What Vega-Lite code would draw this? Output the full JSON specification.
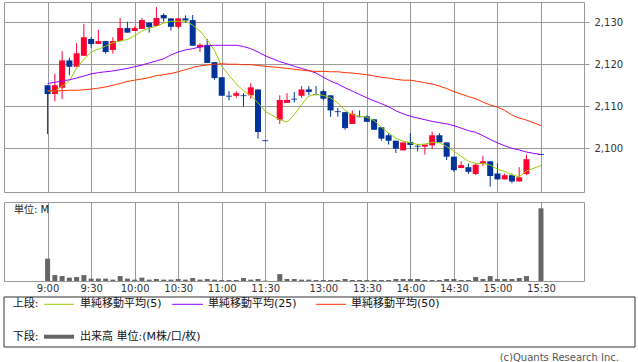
{
  "$schema": "https://vega.github.io/schema/vega-lite/v6.json",
  "padding": {"left": 3, "top": 1, "right": 0, "bottom": 0},
  "background": "white",
  "config": {
    "view": {"stroke": "#999", "strokeWidth": 1},
    "axis": {"gridColor": "#999", "gridWidth": 1, "gridOpacity": 1, "labelFont": "DejaVu Sans", "labelFontSize": 10, "labelColor": "#333", "domain": false, "ticks": false},
    "text": {"font": "DejaVu Sans, Noto Sans CJK JP"}
  },
  "datasets": {
    "candles": [
      {"s":0,"o":2115.0,"h":2115.0,"l":2103.4,"c":2112.9},
      {"s":1,"o":2112.9,"h":2117.7,"l":2111.2,"c":2115.0},
      {"s":2,"o":2114.4,"h":2123.1,"l":2111.7,"c":2120.9},
      {"s":3,"o":2120.9,"h":2121.5,"l":2117.4,"c":2119.4},
      {"s":4,"o":2119.4,"h":2125.0,"l":2119.4,"c":2122.6},
      {"s":5,"o":2122.0,"h":2129.6,"l":2122.0,"c":2126.4},
      {"s":6,"o":2126.0,"h":2126.4,"l":2123.9,"c":2124.8},
      {"s":7,"o":2124.8,"h":2128.2,"l":2124.8,"c":2125.5},
      {"s":8,"o":2125.5,"h":2125.5,"l":2122.5,"c":2122.9},
      {"s":9,"o":2123.4,"h":2126.4,"l":2122.5,"c":2125.5},
      {"s":10,"o":2125.5,"h":2131.0,"l":2125.5,"c":2128.6},
      {"s":11,"o":2128.6,"h":2130.1,"l":2127.5,"c":2127.5},
      {"s":12,"o":2127.9,"h":2129.0,"l":2127.9,"c":2128.6},
      {"s":13,"o":2128.4,"h":2131.0,"l":2128.4,"c":2130.5},
      {"s":14,"o":2129.9,"h":2129.9,"l":2127.5,"c":2128.8},
      {"s":15,"o":2129.1,"h":2133.6,"l":2129.1,"c":2131.0},
      {"s":16,"o":2131.7,"h":2132.1,"l":2130.1,"c":2130.9},
      {"s":17,"o":2130.9,"h":2130.9,"l":2128.0,"c":2128.9},
      {"s":18,"o":2128.9,"h":2130.9,"l":2128.5,"c":2130.9},
      {"s":19,"o":2130.9,"h":2131.6,"l":2129.9,"c":2130.4},
      {"s":20,"o":2130.5,"h":2131.7,"l":2124.4,"c":2124.4},
      {"s":21,"o":2124.0,"h":2125.0,"l":2122.9,"c":2124.6},
      {"s":22,"o":2124.6,"h":2126.0,"l":2120.3,"c":2120.3},
      {"s":23,"o":2120.5,"h":2120.5,"l":2116.3,"c":2116.7},
      {"s":24,"o":2116.9,"h":2116.9,"l":2112.5,"c":2112.5},
      {"s":25,"o":2112.5,"h":2113.6,"l":2111.4,"c":2112.3},
      {"s":26,"o":2112.5,"h":2113.6,"l":2112.0,"c":2113.1},
      {"s":27,"o":2112.6,"h":2113.1,"l":2109.9,"c":2112.4},
      {"s":28,"o":2112.6,"h":2115.5,"l":2111.8,"c":2114.5},
      {"s":29,"o":2114.0,"h":2114.0,"l":2102.3,"c":2103.9},
      {"s":30,"o":2101.9,"h":2101.9,"l":2101.7,"c":2101.7},
      {"s":32,"o":2106.8,"h":2112.6,"l":2105.8,"c":2111.5},
      {"s":33,"o":2110.8,"h":2113.1,"l":2110.8,"c":2111.5},
      {"s":34,"o":2111.8,"h":2113.4,"l":2110.9,"c":2111.6},
      {"s":35,"o":2112.5,"h":2114.8,"l":2112.0,"c":2114.0},
      {"s":36,"o":2114.0,"h":2114.8,"l":2112.6,"c":2113.4},
      {"s":37,"o":2112.9,"h":2114.8,"l":2112.6,"c":2112.7},
      {"s":38,"o":2113.6,"h":2114.0,"l":2111.4,"c":2111.8},
      {"s":39,"o":2112.6,"h":2112.6,"l":2107.5,"c":2109.0},
      {"s":40,"o":2108.8,"h":2109.6,"l":2107.5,"c":2108.6},
      {"s":41,"o":2108.6,"h":2108.6,"l":2104.4,"c":2104.8},
      {"s":42,"o":2105.8,"h":2109.0,"l":2105.8,"c":2108.2},
      {"s":43,"o":2107.6,"h":2109.0,"l":2107.4,"c":2107.4},
      {"s":44,"o":2107.6,"h":2107.8,"l":2106.3,"c":2106.3},
      {"s":45,"o":2106.9,"h":2106.9,"l":2104.4,"c":2104.4},
      {"s":46,"o":2105.0,"h":2105.0,"l":2101.8,"c":2102.3},
      {"s":47,"o":2103.1,"h":2103.6,"l":2100.9,"c":2101.8},
      {"s":48,"o":2101.8,"h":2101.8,"l":2098.9,"c":2099.9},
      {"s":49,"o":2099.5,"h":2101.4,"l":2099.5,"c":2101.4},
      {"s":50,"o":2101.5,"h":2103.6,"l":2099.8,"c":2100.8},
      {"s":51,"o":2100.6,"h":2101.0,"l":2099.3,"c":2100.4},
      {"s":52,"o":2100.4,"h":2100.9,"l":2098.5,"c":2100.9},
      {"s":53,"o":2100.7,"h":2104.0,"l":2099.8,"c":2103.1},
      {"s":54,"o":2103.1,"h":2103.6,"l":2101.4,"c":2101.4},
      {"s":55,"o":2101.4,"h":2101.4,"l":2097.2,"c":2098.0},
      {"s":56,"o":2098.0,"h":2098.0,"l":2094.4,"c":2094.8},
      {"s":57,"o":2095.3,"h":2096.9,"l":2095.3,"c":2096.0},
      {"s":58,"o":2095.5,"h":2096.4,"l":2093.9,"c":2094.4},
      {"s":59,"o":2093.9,"h":2096.4,"l":2093.6,"c":2096.1},
      {"s":60,"o":2096.3,"h":2098.2,"l":2095.8,"c":2096.9},
      {"s":61,"o":2096.9,"h":2096.9,"l":2090.9,"c":2093.4},
      {"s":62,"o":2094.0,"h":2096.4,"l":2092.6,"c":2092.6},
      {"s":63,"o":2092.6,"h":2094.0,"l":2092.6,"c":2093.6},
      {"s":64,"o":2093.6,"h":2094.0,"l":2091.7,"c":2092.1},
      {"s":65,"o":2092.1,"h":2095.5,"l":2092.1,"c":2093.1},
      {"s":66,"o":2093.9,"h":2098.5,"l":2093.6,"c":2097.4},
      {"s":68,"o":2098.6,"h":2098.6,"l":2098.4,"c":2098.4}
    ],
    "ma": [
      {"s":0,"ma5":2113.7,"ma25":2115.4,"ma50":2113.7},
      {"s":1,"ma5":2113.6,"ma25":2115.7,"ma50":2113.7},
      {"s":2,"ma5":2114.8,"ma25":2116.0,"ma50":2113.7},
      {"s":3,"ma5":2116.0,"ma25":2116.3,"ma50":2113.8},
      {"s":4,"ma5":2119.1,"ma25":2116.7,"ma50":2113.8},
      {"s":5,"ma5":2121.1,"ma25":2117.2,"ma50":2113.9},
      {"s":6,"ma5":2122.9,"ma25":2117.7,"ma50":2114.1},
      {"s":7,"ma5":2123.6,"ma25":2118.0,"ma50":2114.3},
      {"s":8,"ma5":2124.3,"ma25":2118.2,"ma50":2114.6},
      {"s":9,"ma5":2125.1,"ma25":2118.4,"ma50":2115.0},
      {"s":10,"ma5":2125.5,"ma25":2118.7,"ma50":2115.4},
      {"s":11,"ma5":2125.9,"ma25":2119.0,"ma50":2115.9},
      {"s":12,"ma5":2126.8,"ma25":2119.4,"ma50":2116.2},
      {"s":13,"ma5":2127.9,"ma25":2119.8,"ma50":2116.5},
      {"s":14,"ma5":2128.6,"ma25":2120.3,"ma50":2116.8},
      {"s":15,"ma5":2129.0,"ma25":2120.8,"ma50":2117.3},
      {"s":16,"ma5":2129.8,"ma25":2121.3,"ma50":2117.5},
      {"s":17,"ma5":2130.2,"ma25":2122.2,"ma50":2117.8},
      {"s":18,"ma5":2130.2,"ma25":2122.9,"ma50":2118.2},
      {"s":19,"ma5":2130.3,"ma25":2123.4,"ma50":2118.7},
      {"s":20,"ma5":2129.3,"ma25":2123.7,"ma50":2119.2},
      {"s":21,"ma5":2127.9,"ma25":2124.1,"ma50":2119.6},
      {"s":22,"ma5":2125.8,"ma25":2124.4,"ma50":2119.8},
      {"s":23,"ma5":2123.3,"ma25":2124.5,"ma50":2120.0},
      {"s":24,"ma5":2119.5,"ma25":2124.5,"ma50":2120.1},
      {"s":25,"ma5":2117.4,"ma25":2124.5,"ma50":2120.0},
      {"s":26,"ma5":2115.3,"ma25":2124.5,"ma50":2120.0},
      {"s":27,"ma5":2113.7,"ma25":2124.2,"ma50":2119.9},
      {"s":28,"ma5":2112.6,"ma25":2123.7,"ma50":2119.9},
      {"s":29,"ma5":2110.8,"ma25":2122.9,"ma50":2119.7},
      {"s":30,"ma5":2108.8,"ma25":2122.0,"ma50":2119.5},
      {"s":32,"ma5":2106.8,"ma25":2120.6,"ma50":2119.2},
      {"s":33,"ma5":2106.2,"ma25":2120.1,"ma50":2119.0},
      {"s":34,"ma5":2108.0,"ma25":2119.5,"ma50":2118.8},
      {"s":35,"ma5":2110.4,"ma25":2119.0,"ma50":2118.6},
      {"s":36,"ma5":2112.4,"ma25":2118.5,"ma50":2118.4},
      {"s":37,"ma5":2112.8,"ma25":2117.9,"ma50":2118.3},
      {"s":38,"ma5":2112.6,"ma25":2116.9,"ma50":2118.3},
      {"s":39,"ma5":2112.0,"ma25":2116.0,"ma50":2118.2},
      {"s":40,"ma5":2110.8,"ma25":2115.3,"ma50":2118.2},
      {"s":41,"ma5":2109.0,"ma25":2114.4,"ma50":2118.0},
      {"s":42,"ma5":2108.0,"ma25":2113.6,"ma50":2117.9},
      {"s":43,"ma5":2107.6,"ma25":2112.8,"ma50":2117.7},
      {"s":44,"ma5":2107.4,"ma25":2112.0,"ma50":2117.5},
      {"s":45,"ma5":2106.6,"ma25":2111.3,"ma50":2117.2},
      {"s":46,"ma5":2105.0,"ma25":2110.6,"ma50":2116.9},
      {"s":47,"ma5":2103.6,"ma25":2109.9,"ma50":2116.7},
      {"s":48,"ma5":2102.4,"ma25":2108.9,"ma50":2116.4},
      {"s":49,"ma5":2101.7,"ma25":2108.2,"ma50":2116.2},
      {"s":50,"ma5":2101.3,"ma25":2107.6,"ma50":2116.2},
      {"s":51,"ma5":2100.9,"ma25":2107.2,"ma50":2115.9},
      {"s":52,"ma5":2101.0,"ma25":2106.8,"ma50":2115.6},
      {"s":53,"ma5":2101.4,"ma25":2106.4,"ma50":2115.3},
      {"s":54,"ma5":2101.3,"ma25":2106.1,"ma50":2114.8},
      {"s":55,"ma5":2100.4,"ma25":2105.8,"ma50":2114.2},
      {"s":56,"ma5":2099.3,"ma25":2105.4,"ma50":2113.5},
      {"s":57,"ma5":2098.1,"ma25":2104.8,"ma50":2112.9},
      {"s":58,"ma5":2096.9,"ma25":2104.2,"ma50":2112.3},
      {"s":59,"ma5":2096.4,"ma25":2103.8,"ma50":2111.8},
      {"s":60,"ma5":2096.4,"ma25":2103.0,"ma50":2111.0},
      {"s":61,"ma5":2096.0,"ma25":2102.1,"ma50":2110.3},
      {"s":62,"ma5":2095.0,"ma25":2101.3,"ma50":2109.8},
      {"s":63,"ma5":2094.5,"ma25":2100.6,"ma50":2109.0},
      {"s":64,"ma5":2093.7,"ma25":2100.0,"ma50":2107.9},
      {"s":65,"ma5":2093.2,"ma25":2099.6,"ma50":2107.2},
      {"s":66,"ma5":2094.6,"ma25":2099.1,"ma50":2106.7},
      {"s":68,"ma5":2095.9,"ma25":2098.5,"ma50":2105.4}
    ],
    "vol": [
      {"s":0,"v":1.13},{"s":1,"v":0.30},{"s":2,"v":0.25},{"s":3,"v":0.17},{"s":4,"v":0.20},
      {"s":5,"v":0.30},{"s":6,"v":0.12},{"s":7,"v":0.12},{"s":8,"v":0.12},{"s":9,"v":0.07},
      {"s":10,"v":0.25},{"s":11,"v":0.12},{"s":12,"v":0.07},{"s":13,"v":0.17},{"s":14,"v":0.07},
      {"s":15,"v":0.10},{"s":16,"v":0.07},{"s":17,"v":0.07},{"s":18,"v":0.10},{"s":19,"v":0.07},
      {"s":20,"v":0.15},{"s":21,"v":0.07},{"s":22,"v":0.10},{"s":23,"v":0.07},{"s":24,"v":0.05},
      {"s":25,"v":0.05},{"s":26,"v":0.05},{"s":27,"v":0.15},{"s":28,"v":0.07},{"s":29,"v":0.10},
      {"s":30,"v":0.02},{"s":32,"v":0.35},{"s":33,"v":0.10},{"s":34,"v":0.10},{"s":35,"v":0.07},
      {"s":36,"v":0.07},{"s":37,"v":0.05},{"s":38,"v":0.05},{"s":39,"v":0.05},{"s":40,"v":0.05},
      {"s":41,"v":0.10},{"s":42,"v":0.05},{"s":43,"v":0.05},{"s":44,"v":0.05},{"s":45,"v":0.05},
      {"s":46,"v":0.05},{"s":47,"v":0.05},{"s":48,"v":0.10},{"s":49,"v":0.10},{"s":50,"v":0.10},
      {"s":51,"v":0.10},{"s":52,"v":0.05},{"s":53,"v":0.05},{"s":54,"v":0.05},{"s":55,"v":0.10},
      {"s":56,"v":0.10},{"s":57,"v":0.05},{"s":58,"v":0.05},{"s":59,"v":0.20},{"s":60,"v":0.10},
      {"s":61,"v":0.25},{"s":62,"v":0.10},{"s":63,"v":0.10},{"s":64,"v":0.10},{"s":65,"v":0.15},
      {"s":66,"v":0.25},{"s":68,"v":3.68}
    ]
  },
  "spacing": 10,
  "bounds": "flush",
  "vconcat": [
    {
      "width": 580,
      "height": 190,
      "layer": [
        {
          "data": {"name": "candles"},
          "mark": {"type": "rule", "strokeWidth": 1},
          "encoding": {
            "x": {"field": "s", "type": "quantitative", "scale": {"domain": [-5.32, 73.24], "nice": false, "zero": false},
                  "axis": {"values": [0,6,12,18,24,30,38,44,50,56,62,68], "labels": false, "grid": true, "title": null}},
            "y": {"field": "l", "type": "quantitative", "scale": {"domain": [2089.6, 2134.8], "nice": false, "zero": false},
                  "axis": {"orient": "right", "values": [2100,2110,2120,2130], "format": ",.0f", "grid": true, "ticks": true, "tickSize": 5, "tickColor": "#999", "labelPadding": 5, "title": null}},
            "y2": {"field": "h"},
            "color": {"condition": {"test": "datum.c > datum.o", "value": "#ff0033"}, "value": "#003399"}
          }
        },
        {
          "data": {"name": "candles"},
          "mark": {"type": "bar", "size": 6},
          "encoding": {
            "x": {"field": "s", "type": "quantitative"},
            "y": {"field": "o", "type": "quantitative"},
            "y2": {"field": "c"},
            "color": {"condition": {"test": "datum.c > datum.o", "value": "#ff0033"}, "value": "#003399"}
          }
        },
        {
          "data": {"name": "ma"},
          "transform": [{"fold": ["ma5", "ma25", "ma50"], "as": ["k", "v"]}],
          "mark": {"type": "line", "strokeWidth": 1},
          "encoding": {
            "x": {"field": "s", "type": "quantitative"},
            "y": {"field": "v", "type": "quantitative"},
            "color": {"field": "k", "type": "nominal", "scale": {"domain": ["ma5", "ma25", "ma50"], "range": ["#99cc00", "#9900ff", "#ff3300"]}, "legend": null}
          }
        }
      ]
    },
    {
      "width": 580,
      "height": 79,
      "layer": [
        {
          "data": {"name": "vol"},
          "mark": {"type": "bar", "size": 5, "color": "#666666"},
          "encoding": {
            "x": {"field": "s", "type": "quantitative", "scale": {"domain": [-5.32, 73.24], "nice": false, "zero": false},
                  "axis": {"values": [0,6,12,18,24,30,38,44,50,56,62,68], "grid": true, "title": null, "labelPadding": 2,
                           "labelExpr": "floor(((datum.value < 31 ? 540 : 590) + datum.value * 5) / 60) + ':' + ((((datum.value < 31 ? 540 : 590) + datum.value * 5) % 60) == 0 ? '00' : '30')"}},
            "y": {"field": "v", "type": "quantitative", "scale": {"domain": [0, 4], "nice": false}, "axis": null}
          }
        },
        {
          "data": {"values": [{"u": "単位: M"}]},
          "mark": {"type": "text", "align": "left", "baseline": "middle", "fontSize": 10, "color": "#222"},
          "encoding": {
            "text": {"field": "u"},
            "x": {"datum": -4.64, "type": "quantitative"},
            "y": {"datum": 3.595, "type": "quantitative"}
          }
        }
      ]
    },
    {
      "width": 631,
      "height": 56,
      "view": {"stroke": null},
      "data": {"values": [{}]},
      "layer": [
        {"mark": {"type": "rect", "fillOpacity": 0, "stroke": "#333", "strokeWidth": 1},
         "encoding": {"x": {"datum": 0, "type": "quantitative", "scale": {"domain": [0, 100]}, "axis": null}, "x2": {"datum": 100},
                      "y": {"datum": 10.71, "type": "quantitative", "scale": {"domain": [0, 100], "reverse": true}, "axis": null}, "y2": {"datum": 100}}},
        {"mark": {"type": "text", "text": "上段:", "align": "left", "baseline": "middle", "fontSize": 11, "color": "#111"},
         "encoding": {"x": {"datum": 1.38, "type": "quantitative", "scale": {"domain": [0, 100]}, "axis": null},
                      "y": {"datum": 23.75, "type": "quantitative", "scale": {"domain": [0, 100], "reverse": true}, "axis": null}}},
        {"mark": {"type": "rule", "color": "#99cc00", "strokeWidth": 1},
         "encoding": {"x": {"datum": 6.34, "type": "quantitative", "scale": {"domain": [0, 100]}, "axis": null}, "x2": {"datum": 11.09},
                      "y": {"datum": 23.75, "type": "quantitative", "scale": {"domain": [0, 100], "reverse": true}, "axis": null}}},
        {"mark": {"type": "text", "text": "単純移動平均(5)", "align": "left", "baseline": "middle", "fontSize": 11, "color": "#111"},
         "encoding": {"x": {"datum": 12.04, "type": "quantitative", "scale": {"domain": [0, 100]}, "axis": null},
                      "y": {"datum": 23.75, "type": "quantitative", "scale": {"domain": [0, 100], "reverse": true}, "axis": null}}},
        {"mark": {"type": "rule", "color": "#9900ff", "strokeWidth": 1},
         "encoding": {"x": {"datum": 26.62, "type": "quantitative", "scale": {"domain": [0, 100]}, "axis": null}, "x2": {"datum": 31.54},
                      "y": {"datum": 23.75, "type": "quantitative", "scale": {"domain": [0, 100], "reverse": true}, "axis": null}}},
        {"mark": {"type": "text", "text": "単純移動平均(25)", "align": "left", "baseline": "middle", "fontSize": 11, "color": "#111"},
         "encoding": {"x": {"datum": 32.33, "type": "quantitative", "scale": {"domain": [0, 100]}, "axis": null},
                      "y": {"datum": 23.75, "type": "quantitative", "scale": {"domain": [0, 100], "reverse": true}, "axis": null}}},
        {"mark": {"type": "rule", "color": "#ff3300", "strokeWidth": 1},
         "encoding": {"x": {"datum": 49.45, "type": "quantitative", "scale": {"domain": [0, 100]}, "axis": null}, "x2": {"datum": 54.2},
                      "y": {"datum": 23.75, "type": "quantitative", "scale": {"domain": [0, 100], "reverse": true}, "axis": null}}},
        {"mark": {"type": "text", "text": "単純移動平均(50)", "align": "left", "baseline": "middle", "fontSize": 11, "color": "#111"},
         "encoding": {"x": {"datum": 54.99, "type": "quantitative", "scale": {"domain": [0, 100]}, "axis": null},
                      "y": {"datum": 23.75, "type": "quantitative", "scale": {"domain": [0, 100], "reverse": true}, "axis": null}}},
        {"mark": {"type": "text", "text": "下段:", "align": "left", "baseline": "middle", "fontSize": 11, "color": "#111"},
         "encoding": {"x": {"datum": 1.38, "type": "quantitative", "scale": {"domain": [0, 100]}, "axis": null},
                      "y": {"datum": 81.6, "type": "quantitative", "scale": {"domain": [0, 100], "reverse": true}, "axis": null}}},
        {"mark": {"type": "rule", "color": "#666666", "strokeWidth": 4},
         "encoding": {"x": {"datum": 6.34, "type": "quantitative", "scale": {"domain": [0, 100]}, "axis": null}, "x2": {"datum": 11.09},
                      "y": {"datum": 81.6, "type": "quantitative", "scale": {"domain": [0, 100], "reverse": true}, "axis": null}}},
        {"mark": {"type": "text", "text": "出来高 単位:(M株/口/枚)", "align": "left", "baseline": "middle", "fontSize": 11, "color": "#111"},
         "encoding": {"x": {"datum": 12.04, "type": "quantitative", "scale": {"domain": [0, 100]}, "axis": null},
                      "y": {"datum": 81.6, "type": "quantitative", "scale": {"domain": [0, 100], "reverse": true}, "axis": null}}},
        {"mark": {"type": "text", "text": "(c)Quants Research Inc.", "align": "right", "baseline": "middle", "fontSize": 10, "color": "#555"},
         "encoding": {"x": {"datum": 97.46, "type": "quantitative", "scale": {"domain": [0, 100]}, "axis": null},
                      "y": {"datum": 118.75, "type": "quantitative", "scale": {"domain": [0, 100], "reverse": true}, "axis": null}}}
      ]
    }
  ]
}
